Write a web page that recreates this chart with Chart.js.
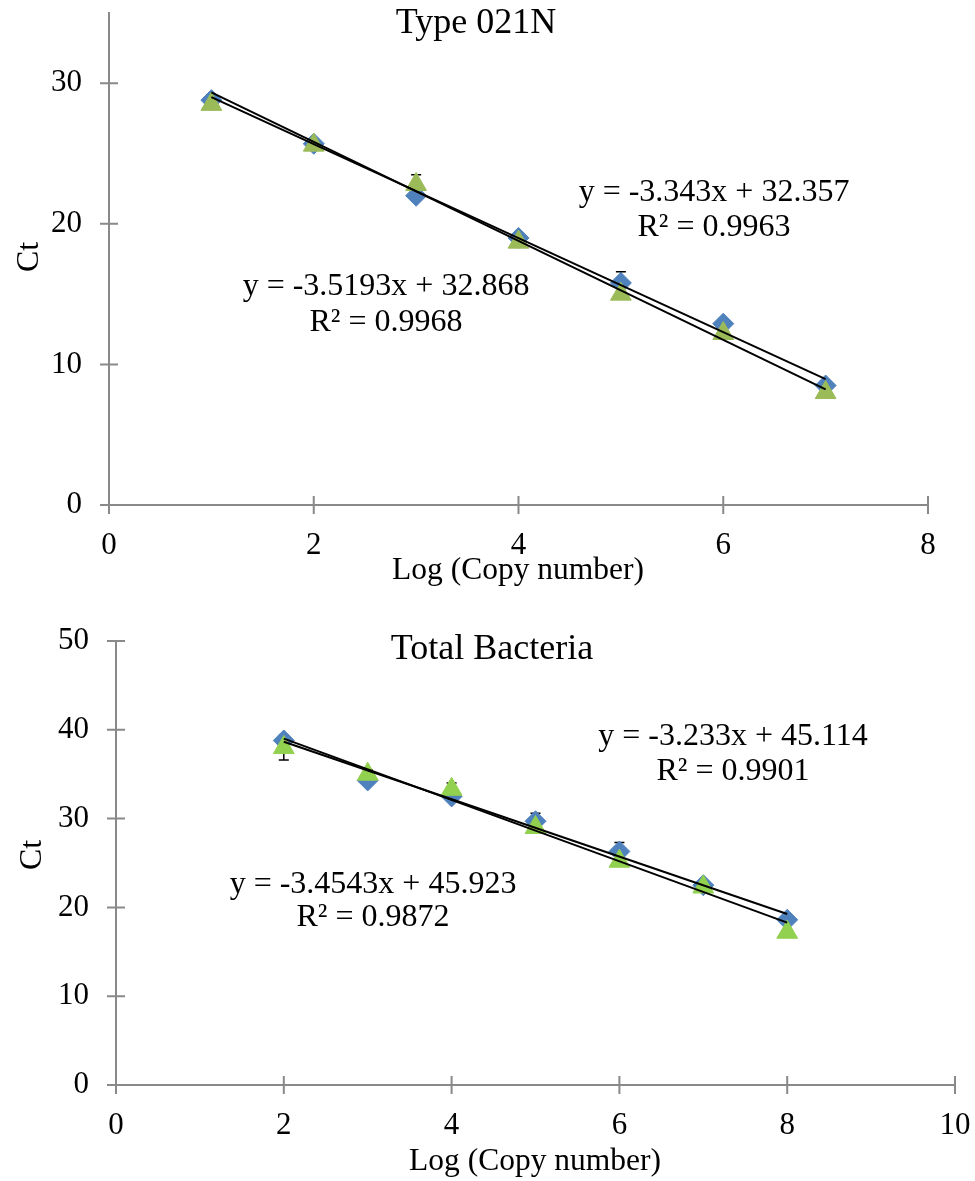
<!DOCTYPE html>
<html>
<head>
<meta charset="utf-8">
<script src="https://cdn.jsdelivr.net/npm/chart.js@4.4.1/dist/chart.umd.min.js"></script>
<style>
  html,body{margin:0;padding:0;background:#fff}
  #wrap{position:relative;width:975px;height:1181px}
  canvas{position:absolute;left:0}
</style>
</head>
<body>
<div id="wrap">
  <canvas id="chartTop" width="975" height="590" style="top:0"></canvas>
  <canvas id="chartBottom" width="975" height="591" style="top:590px"></canvas>
</div>
<script>
// ---- Type 021N ----
const topX        = [1, 2, 3, 4, 5, 6, 7];
const topBlue     = [28.8, 25.7, 22.0, 19.0, 15.8, 12.9, 8.5];
const topBlueErr  = [0, 0, 0, 0, 0.8, 0, 0];
const topGreen    = [28.5, 25.6, 22.8, 18.7, 15.0, 12.2, 8.0];
const topGreenErr = [0, 0, 0.7, 0, 0, 0, 0];
// trendline end points (x = 1 and x = 7)
const topTrendX     = [1, 7];
const topTrendBlue  = [29.01, 8.96];
const topTrendGreen = [29.35, 8.23];
const topXTicks = [0, 2, 4, 6, 8];
const topYTicks = [0, 10, 20, 30];

// ---- Total Bacteria ----
const botX        = [2, 3, 4, 5, 6, 7, 8];
const botBlue     = [38.8, 34.3, 32.5, 29.7, 26.3, 22.5, 18.6];
const botBlueErr  = [0, 0, 0, 0.9, 1.0, 0, 0.3];
const botGreen    = [38.0, 35.0, 33.3, 29.0, 25.2, 22.3, 17.2];
const botGreenErr = [1.4, 0.5, 0.7, 0, 0, 0, 0];
const botTrendX     = [2, 8];
const botTrendBlue  = [38.65, 19.25];
const botTrendGreen = [39.01, 18.29];
const botXTicks = [0, 2, 4, 6, 8, 10];
const botYTicks = [0, 10, 20, 30, 40, 50];

const SERIF = '"Liberation Serif", "Times New Roman", serif';
const AXIS = '#898989';
const BLUE = '#4F81BD';

const pts = (xs, ys) => xs.map((x, i) => ({ x, y: ys[i] }));

// error bars, drawn behind the markers
const errorBars = {
  id: 'errorBars',
  beforeDatasetsDraw(chart){
    const ctx = chart.ctx, ys = chart.scales.y;
    ctx.save();
    ctx.strokeStyle = '#000';
    ctx.lineWidth = 1.5;
    chart.data.datasets.forEach((ds, di) => {
      if(!ds.errors) return;
      const meta = chart.getDatasetMeta(di);
      ds.errors.forEach((e, i) => {
        if(!e) return;
        const px = meta.data[i].x, v = ds.data[i].y;
        const y1 = ys.getPixelForValue(v + e), y2 = ys.getPixelForValue(v - e);
        ctx.beginPath();
        ctx.moveTo(px, y1); ctx.lineTo(px, y2);
        ctx.moveTo(px - 5, y1); ctx.lineTo(px + 5, y1);
        ctx.moveTo(px - 5, y2); ctx.lineTo(px + 5, y2);
        ctx.stroke();
      });
    });
    ctx.restore();
  }
};

// excel-style tick marks that cross the axis line
const crossTicks = {
  id: 'crossTicks',
  afterDraw(chart){
    const ctx = chart.ctx, xs = chart.scales.x, ys = chart.scales.y, a = chart.chartArea;
    ctx.save();
    ctx.strokeStyle = AXIS;
    ctx.lineWidth = 2;
    ctx.beginPath();
    xs.ticks.forEach(t => {
      const p = xs.getPixelForValue(t.value);
      ctx.moveTo(p, a.bottom - 9); ctx.lineTo(p, a.bottom + 9);
    });
    ys.ticks.forEach(t => {
      const p = ys.getPixelForValue(t.value);
      ctx.moveTo(a.left - 9, p); ctx.lineTo(a.left + 9, p);
    });
    ctx.stroke();
    ctx.restore();
  }
};

// titles, axis titles and trendline equations
const overlayText = {
  id: 'overlayText',
  afterDraw(chart, args, opts){
    const ctx = chart.ctx;
    ctx.save();
    ctx.fillStyle = '#000';
    ctx.textAlign = 'center';
    ctx.textBaseline = 'middle';
    (opts.items || []).forEach(it => {
      ctx.font = it.size + 'px ' + SERIF;
      ctx.save();
      ctx.translate(it.x, it.y);
      if(it.rot) ctx.rotate(it.rot);
      ctx.fillText(it.text, 0, 0);
      ctx.restore();
    });
    ctx.restore();
  }
};

function makeChart(canvasId, cfg){
  const fixTicks = list => s => { s.ticks = list.map(v => ({ value: v })); };
  return new Chart(document.getElementById(canvasId), {
    type: 'scatter',
    data: {
      datasets: [
        { type:'line', data: pts(cfg.trendX, cfg.trendBlue), borderColor:'#000', borderWidth:2, pointRadius:0, fill:false, order:0 },
        { type:'line', data: pts(cfg.trendX, cfg.trendGreen), borderColor:'#000', borderWidth:2, pointRadius:0, fill:false, order:0 },
        { data: pts(cfg.x, cfg.green), errors: cfg.greenErr, pointStyle:'triangle', pointRadius:12,
          backgroundColor: cfg.greenColor, borderColor: cfg.greenColor, borderWidth:1, order:1 },
        { data: pts(cfg.x, cfg.blue), errors: cfg.blueErr, pointStyle:'rectRot', pointRadius:10.5,
          backgroundColor: BLUE, borderColor: BLUE, borderWidth:1, order:2 }
      ]
    },
    options: {
      responsive:false, animation:false, events:[],
      layout:{ padding:{ top:cfg.padTop, right:cfg.padRight, left:0, bottom:0 } },
      plugins:{
        legend:{ display:false }, tooltip:{ enabled:false },
        overlayText:{ items: cfg.texts }
      },
      scales:{
        x:{
          type:'linear', min:cfg.xTicks[0], max:cfg.xTicks[cfg.xTicks.length-1],
          afterBuildTicks: fixTicks(cfg.xTicks),
          grid:{ display:false, drawTicks:true, tickLength:9 },
          border:{ display:true, color:AXIS, width:2 },
          ticks:{ color:'#000', padding:13, maxRotation:0, autoSkip:false, font:{ family:SERIF, size:31 } },
          afterFit: s => { s.height = cfg.xAxisH; s.paddingLeft = s.paddingRight = 0; }
        },
        y:{
          type:'linear', min:0, max:cfg.yMax,
          afterBuildTicks: fixTicks(cfg.yTicks),
          grid:{ display:false, drawTicks:true, tickLength:9 },
          border:{ display:true, color:AXIS, width:2 },
          ticks:{ color:'#000', padding:18, font:{ family:SERIF, size:31 } },
          afterFit: s => { s.width = cfg.yAxisW; s.paddingTop = s.paddingBottom = 0; }
        }
      }
    },
    plugins:[errorBars, crossTicks, overlayText]
  });
}

makeChart('chartTop', {
  x: topX, blue: topBlue, blueErr: topBlueErr, green: topGreen, greenErr: topGreenErr,
  trendX: topTrendX, trendBlue: topTrendBlue, trendGreen: topTrendGreen,
  greenColor:'#9BBB59', xTicks: topXTicks, yTicks: topYTicks, yMax:35,
  padTop:12, padRight:47, xAxisH:85, yAxisW:109,
  texts:[
    { text:'Type 021N', x:476, y:24, size:36 },
    { text:'Ct', x:30, y:257, size:32, rot:-Math.PI/2 },
    { text:'Log (Copy number)', x:518, y:571, size:31.5 },
    { text:'y = -3.343x + 32.357', x:714, y:193, size:32 },
    { text:'R² = 0.9963', x:714, y:228, size:32 },
    { text:'y = -3.5193x + 32.868', x:386, y:287, size:32 },
    { text:'R² = 0.9968', x:386, y:323, size:32 }
  ]
});

makeChart('chartBottom', {
  x: botX, blue: botBlue, blueErr: botBlueErr, green: botGreen, greenErr: botGreenErr,
  trendX: botTrendX, trendBlue: botTrendBlue, trendGreen: botTrendGreen,
  greenColor:'#92D050', xTicks: botXTicks, yTicks: botYTicks, yMax:50,
  padTop:51, padRight:20, xAxisH:96, yAxisW:116,
  texts:[
    { text:'Total Bacteria', x:492, y:60, size:36 },
    { text:'Ct', x:33, y:265, size:32, rot:-Math.PI/2 },
    { text:'Log (Copy number)', x:535, y:572, size:31.5 },
    { text:'y = -3.233x + 45.114', x:733, y:147, size:32 },
    { text:'R² = 0.9901', x:733, y:182, size:32 },
    { text:'y = -3.4543x + 45.923', x:373, y:295, size:32 },
    { text:'R² = 0.9872', x:373, y:328, size:32 }
  ]
});
</script>
</body>
</html>
